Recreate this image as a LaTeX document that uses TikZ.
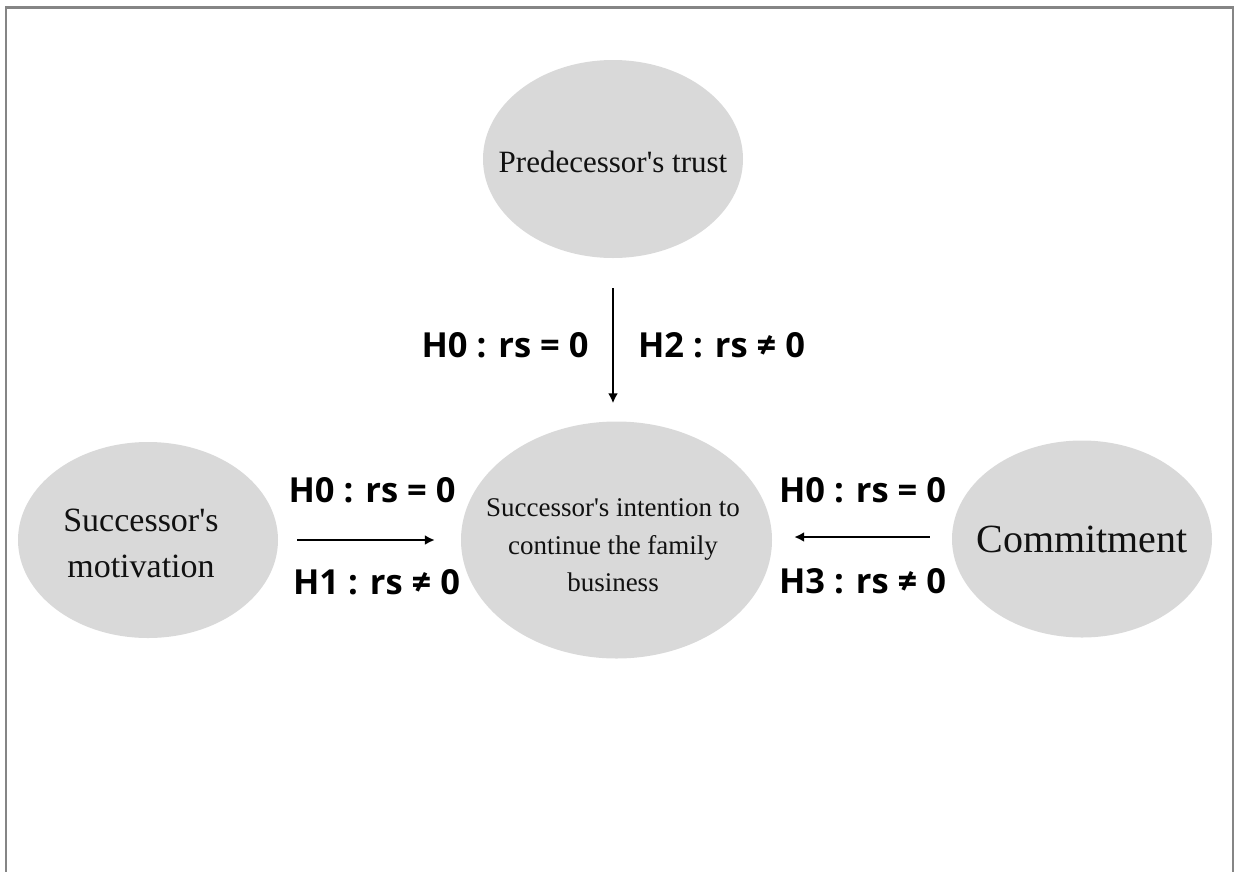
\documentclass[tikz,border=0pt]{standalone}
\usepackage{fontspec}
\setmainfont{Liberation Serif}
\newfontfamily\labfont{Open Sans}
\usetikzlibrary{shapes.geometric,arrows.meta}
\definecolor{ellfill}{HTML}{D9D9D9}
\definecolor{framegray}{HTML}{858585}
\definecolor{txtdark}{HTML}{111111}
\tikzset{
  ell/.style={ellipse, fill=ellfill, draw=none, inner sep=0pt},
  ellText/.style={font=#1, text=txtdark, align=center},
  hyp/.style={font=\labfont\bfseries\fontsize{34.5}{40}\selectfont, text=black, anchor=base, inner sep=0pt},
  arr/.style={line width=2.6pt, -{Latex[length=10pt,width=10pt]}},
  frameline/.style={draw=framegray, line width=2.5pt}
}
\begin{document}
\begin{tikzpicture}[x=1pt,y=-1pt]
\useasboundingbox (0,0) rectangle (1235,871);
\draw[frameline] (6,875) -- (6,7.5) -- (1233,7.5) -- (1233,875);

\node[ell, minimum width=260pt, minimum height=198pt,
  label={[ellText=\fontsize{31}{36}\selectfont, yshift=-2.4pt]center:Predecessor\textquotesingle s trust}]
  (pred) at (613,159) {};
\node[ell, minimum width=311pt, minimum height=237pt,
  label={[ellText=\fontsize{27}{37.5}\selectfont, yshift=-5.3pt, xshift=-3.5pt]center:Successor\textquotesingle s intention to\\continue the family\\business}]
  (int) at (616.5,540) {};
\node[ell, minimum width=260pt, minimum height=196pt,
  label={[ellText=\fontsize{34}{46}\selectfont, yshift=-3.5pt, xshift=-7pt]center:Successor\textquotesingle s\\motivation}]
  (mot) at (148,540) {};
\node[ell, minimum width=260pt, minimum height=197pt,
  label={[ellText=\fontsize{40}{46}\selectfont]center:Commitment}]
  (comm) at (1082,539) {};

\draw[arr, shorten <=30pt, shorten >=18pt] (pred.south) -- (pred.south |- int.north);
\draw[arr, shorten <=19pt, shorten >=26pt] (mot.east) -- (int.west);
\draw[arr, shorten <=22pt, shorten >=22pt] ([yshift=2pt]comm.west) -- ([yshift=2pt]comm.west -| int.east);

\node[hyp] (h0a) at (505,357) {H0 : rs = 0};
\node[hyp] (h2) at (721.5,357) {H2 : rs ≠ 0};
\node[hyp] (h0b) at (372,502) {H0 : rs = 0};
\node[hyp] (h1) at (376.5,594) {H1 : rs ≠ 0};
\node[hyp] (h0c) at (862.5,502) {H0 : rs = 0};
\node[hyp] (h3) at (862.5,593) {H3 : rs ≠ 0};
\end{tikzpicture}
\end{document}
